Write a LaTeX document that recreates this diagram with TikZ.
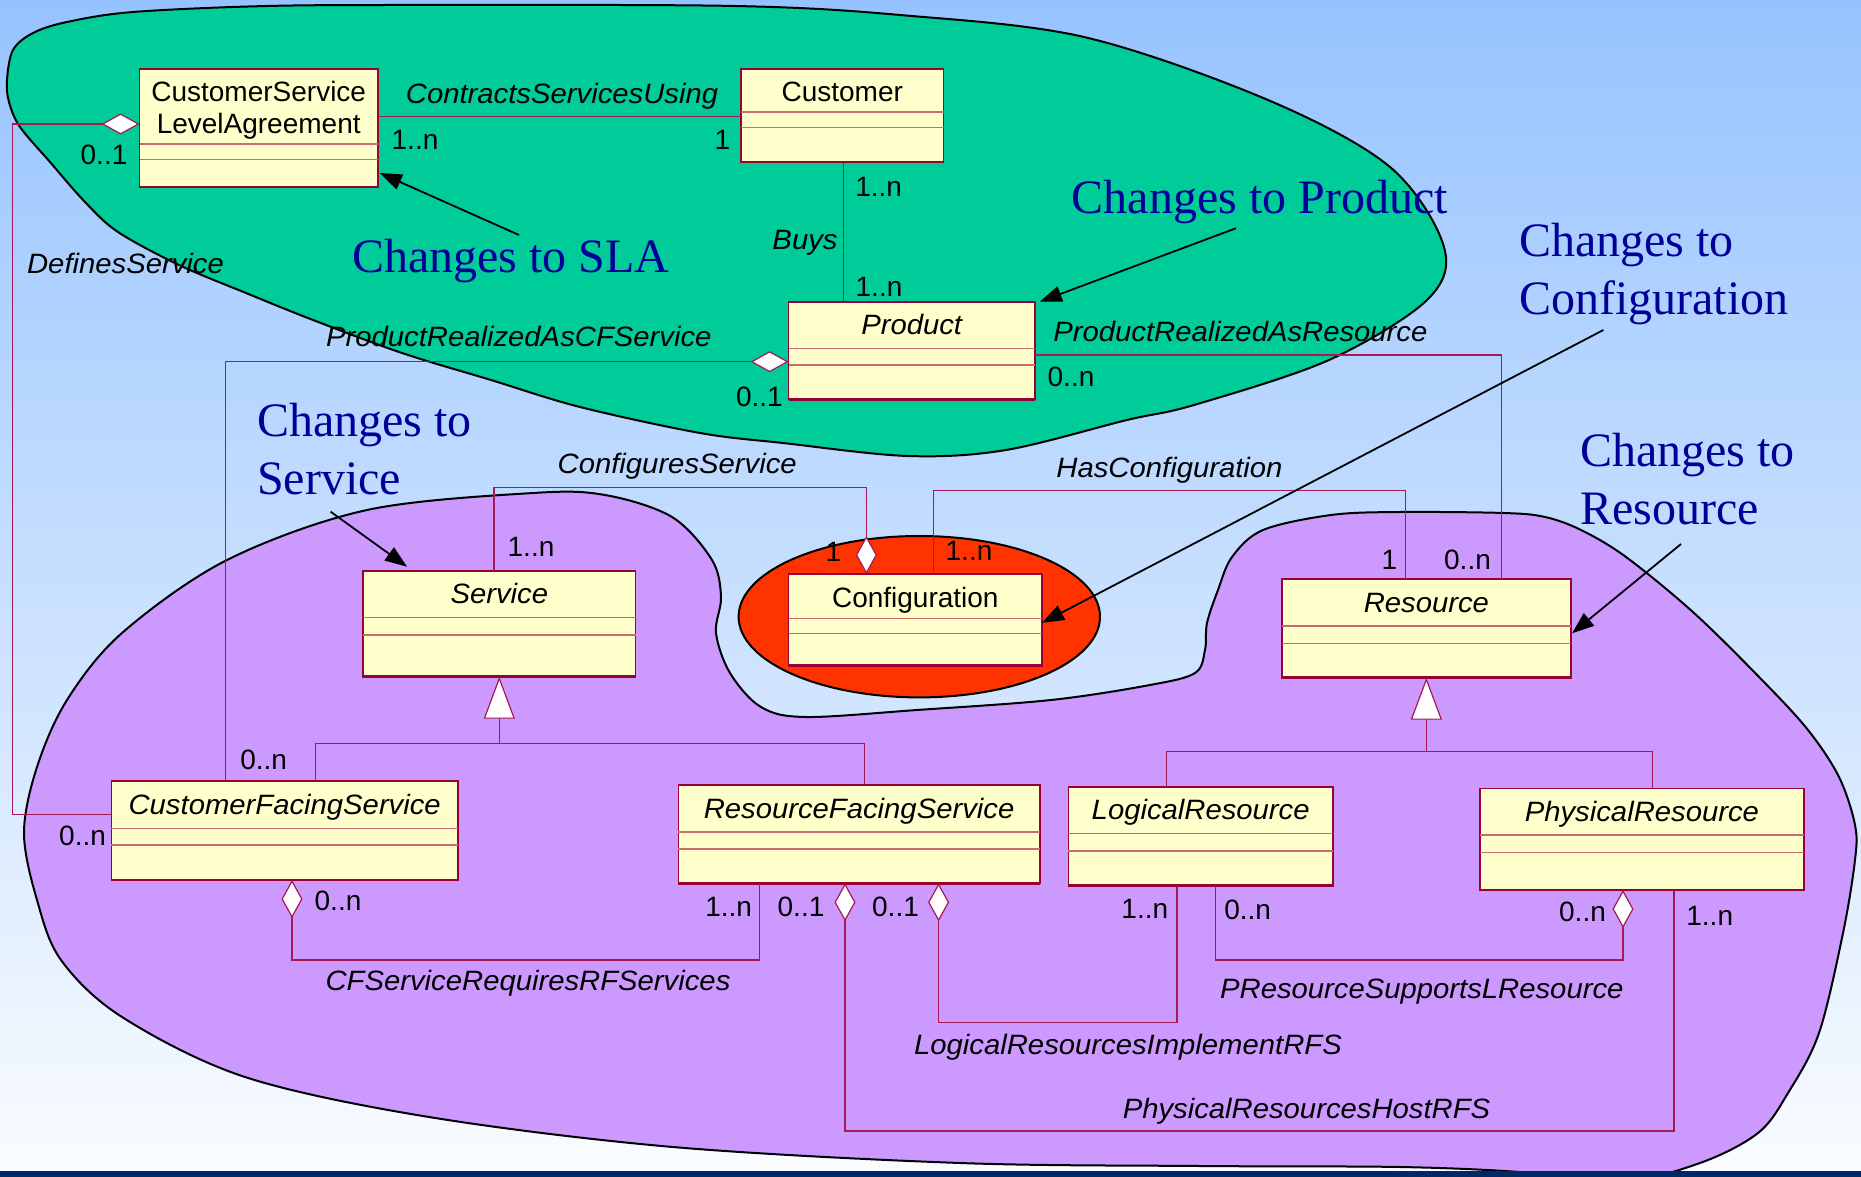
\documentclass[tikz,border=0pt]{standalone}
\usepackage{fontspec}
\setmainfont{Liberation Sans}[ItalicFeatures={FakeStretch=1.045}]
\newfontfamily\annfont{Liberation Serif}
\usetikzlibrary{arrows.meta,calc}
\definecolor{bgtop}{RGB}{150,195,255}
\definecolor{bgbot}{RGB}{250,252,255}
\definecolor{navy}{RGB}{0,40,102}
\definecolor{blobgreen}{RGB}{0,204,153}
\definecolor{blobpurple}{RGB}{204,153,255}
\definecolor{blobred}{RGB}{255,51,0}
\definecolor{clsfill}{RGB}{255,255,204}
\definecolor{clsborder}{RGB}{153,0,51}
\definecolor{clssep}{RGB}{200,105,115}
\definecolor{connc}{RGB}{165,25,85}
\definecolor{annblue}{RGB}{0,0,153}
\tikzset{
  Agg/.tip={Diamond[length=38pt,width=21pt,fill=white]},
  Gen/.tip={Triangle[length=42pt,width=31pt,fill=white]},
  cls/.style={draw=clsborder, fill=clsfill, line width=1.6pt, rectangle, inner sep=0pt, outer sep=0pt},
  sepline/.style={draw=clssep, line width=1.6pt},
  clsname/.style={inner sep=0pt, font=\fontsize{28}{31.6}\selectfont},
  clsnameit/.style={inner sep=0pt, font=\fontsize{28}{31.6}\selectfont\itshape},
  conn/.style={draw=connc, line width=1.2pt},
  lbl/.style={inner sep=0pt, anchor=base, font=\fontsize{28}{33}\selectfont\itshape},
  mult/.style={inner sep=0pt, anchor=base, font=\fontsize{28}{33}\selectfont},
  ann/.style={inner sep=0pt, anchor=base west, text=annblue, font=\annfont\fontsize{48}{57.5}\selectfont},
  annarrow/.style={draw=black, line width=1.8pt, -{Triangle[length=22pt,width=16pt]}},
  blob/.style={draw=black, line width=2pt},
}
\newcommand{\umlcls}[9]{%
  \node[cls, anchor=north west, minimum width=#4pt, minimum height=#5pt] (#1) at (#2,#3) {};
  \draw[sepline] ($(#1.north west)+(0,#6)$) -- ($(#1.north east)+(0,#6)$);
  \draw[sepline] ($(#1.north west)+(0,#7)$) -- ($(#1.north east)+(0,#7)$);
  \draw[clsborder, line width=2.6pt] (#1.south west) -- (#1.south east);
  \node[#9, anchor=base] (#1-name) at ($(#1.north)+(0,33)$) {#8};
}
\newcommand{\twol}[2]{\begin{tabular}[t]{@{}l@{}}#1\\#2\end{tabular}}
\begin{document}
\begin{tikzpicture}[x=1pt,y=-1pt]
\useasboundingbox (0,0) rectangle (1861,1177);
\shade[top color=bgtop,bottom color=bgbot] (0,0) rectangle (1861,1177);
% green blob
\draw[blob,fill=blobgreen] plot[smooth cycle, tension=0.55] coordinates {
 (7,80) (13,50) (33,33) (67,22) (133,12) (267,6) (428,5) (735,6) (900,15) (1084,37) (1268,100)
 (1390,167) (1444,247) (1427,300) (1329,360) (1194,405) (1127,420) (1006,450) (908,456)
 (783,443) (700,433) (580,407) (491,380) (402,353) (313,320) (246,293) (179,265) (118,232)
 (85,202) (50,162) (20,127) (9,102)};
% purple blob
\draw[blob,fill=blobpurple] plot[smooth cycle, tension=0.55] coordinates {
 (24,833) (37,767) (67,700) (122,633) (227,560) (367,510) (533,493) (605,495) (672,517)
 (712,560) (721,597) (716,633) (730,673) (761,707) (806,717) (917,710) (1051,700)
 (1150,685) (1195,673) (1205,650) (1207,623) (1218,590) (1232,557) (1263,530) (1331,515)
 (1399,512) (1504,513) (1545,517) (1581,530) (1626,557) (1694,613) (1762,680) (1808,730)
 (1839,777) (1855,825) (1855,860)
 (1843,933) (1819,1033) (1788,1093) (1758,1133) (1700,1163) (1620,1182) (1520,1172)
 (1400,1167) (1200,1166) (960,1163) (673,1147) (429,1117) (245,1077) (122,1017) (61,960)
 (37,900)};
% red ellipse
\draw[blob,fill=blobred] (919.3,616.7) ellipse [x radius=180.7pt, y radius=80.7pt];
\fill[navy] (0,1171) rectangle (1861,1177);
% classes
\umlcls{csla}{139.6}{69}{238.2}{118}{75.3}{90.7}{\begin{tabular}[t]{@{}c@{}}CustomerService\\LevelAgreement\end{tabular}}{clsname}
\umlcls{customer}{741}{69}{202.5}{93}{43.3}{58.7}{Customer}{clsname}
\umlcls{product}{788.6}{301.7}{246.2}{97.6}{46.6}{63.3}{Product}{clsnameit}
\umlcls{service}{363}{570.7}{272.6}{106}{46.6}{64}{Service}{clsnameit}
\umlcls{config}{788.6}{574}{253.4}{91.7}{44.3}{59.3}{Configuration}{clsname}
\umlcls{resource}{1281.7}{579}{289.3}{98.7}{46.7}{64.3}{Resource}{clsnameit}
\umlcls{cfs}{111.4}{781}{346.6}{99}{47.3}{64}{CustomerFacingService}{clsnameit}
\umlcls{rfs}{678.4}{785}{361.3}{98.3}{46.7}{64}{ResourceFacingService}{clsnameit}
\umlcls{lr}{1068.4}{786.7}{264.6}{99}{46.6}{64.3}{LogicalResource}{clsnameit}
\umlcls{pr}{1480}{788.3}{323.8}{101.7}{46.7}{64}{PhysicalResource}{clsnameit}
% connectors
\draw[conn] (csla.east |- 0,116.7) -- (customer.west |- 0,116.7);
\draw[conn] (customer.south -| 843.7,0) -- (product.north -| 843.7,0);
\draw[conn,{Agg}-] (csla.west |- 0,124) -- (12.2,124) |- (cfs.west |- 0,814.3);
\draw[conn,{Agg}-] (product.west |- 0,361.7) -| (cfs.north -| 225.3,0);
\draw[conn] (product.east |- 0,355) -| (resource.north -| 1501.7,0);
\draw[conn,-{Agg}] (service.north -| 494,0) -- (494,487.7) -| (config.north -| 866.4,0);
\draw[conn] (config.north -| 933.7,0) -- (933.7,490.7) -| (resource.north -| 1405.6,0);
\draw[conn,{Gen}-] (service.south) -- (service.south |- 0,743.3) -| (cfs.north -| 315.3,0);
\draw[conn] (service.south |- 0,743.3) -| (rfs.north -| 864.6,0);
\draw[conn,{Gen}-] (resource.south) -- (resource.south |- 0,751.7) -| (lr.north -| 1166.5,0);
\draw[conn] (resource.south |- 0,751.7) -| (pr.north -| 1652.4,0);
\draw[conn,{Agg}-] (cfs.south -| 292,0) -- (292,960) -| (rfs.south -| 759.3,0);
\draw[conn,{Agg}-] (rfs.south -| 845,0) -- (845,1131) -| (pr.south -| 1673.9,0);
\draw[conn,{Agg}-] (rfs.south -| 938.6,0) -- (938.6,1022.3) -| (lr.south -| 1177,0);
\draw[conn,-{Agg}] (lr.south -| 1215.6,0) -- (1215.6,960) -| (pr.south -| 1623,0);
% association labels
\node[lbl] (l-csu) at (562,104) {ContractsServicesUsing};
\node[lbl] (l-buys) at (805,250) {Buys};
\node[lbl] (l-def) at (125.5,273.3) {DefinesService};
\node[lbl] (l-prcf) at (518.8,346.7) {ProductRealizedAsCFService};
\node[lbl] (l-prr) at (1240.4,341.7) {ProductRealizedAsResource};
\node[lbl] (l-cs) at (677.2,473.3) {ConfiguresService};
\node[lbl] (l-hc) at (1169.5,477.3) {HasConfiguration};
\node[lbl] (l-cfrf) at (528,990.7) {CFServiceRequiresRFServices};
\node[lbl] (l-psl) at (1421.8,998.3) {PResourceSupportsLResource};
\node[lbl] (l-lri) at (1128,1054) {LogicalResourcesImplementRFS};
\node[lbl] (l-prh) at (1306.5,1118.3) {PhysicalResourcesHostRFS};
% multiplicities
\node[mult] (m1) at (415,150) {1..n};
\node[mult] (m2) at (722.5,150) {1};
\node[mult] (m3) at (104,165) {0..1};
\node[mult] (m4) at (878.6,196.7) {1..n};
\node[mult] (m5) at (879,296.7) {1..n};
\node[mult] (m6) at (759.4,406.7) {0..1};
\node[mult] (m7) at (1071,386) {0..n};
\node[mult] (m8) at (531,556.7) {1..n};
\node[mult] (m9) at (833.5,561.7) {1};
\node[mult] (m10) at (969,560) {1..n};
\node[mult] (m11) at (1389.5,569.3) {1};
\node[mult] (m12) at (1467.5,569.3) {0..n};
\node[mult] (m13) at (263.6,769.3) {0..n};
\node[mult] (m14) at (82.6,845) {0..n};
\node[mult] (m15) at (338,910.7) {0..n};
\node[mult] (m16) at (728.6,916.7) {1..n};
\node[mult] (m17) at (801,916.7) {0..1};
\node[mult] (m18) at (895.5,916.7) {0..1};
\node[mult] (m19) at (1144.8,918.3) {1..n};
\node[mult] (m20) at (1247.7,919.3) {0..n};
\node[mult] (m21) at (1582.5,921.7) {0..n};
\node[mult] (m22) at (1709.7,925) {1..n};
% annotations
\node[ann] (a-sla) at (352,272.7) {Changes to SLA};
\node[ann] (a-prod) at (1071.6,213.3) {Changes to Product};
\node[ann] (a-conf) at (1519,256.7) {\twol{Changes to}{Configuration}};
\node[ann] (a-serv) at (257,436.7) {\twol{Changes to}{Service}};
\node[ann] (a-res) at (1580,466.7) {\twol{Changes to}{Resource}};
\coordinate (aSLA) at (519,235);
\coordinate (aProd) at (1235.8,228.3);
\coordinate (aConf) at (1603.4,330);
\coordinate (aServ) at (330.6,511.7);
\coordinate (aRes) at (1681,544);
\draw[annarrow] (aSLA) -- ($(csla.south east)+(2,-14)$);
\draw[annarrow] (aProd) -- ($(product.north east)+(5,0)$);
\draw[annarrow] (aConf) -- ($(config.east)+(0,3)$);
\draw[annarrow] (aServ) -- ($(service.north west)+(44,-4)$);
\draw[annarrow] (aRes) -- ($(resource.east)+(1,5)$);
\end{tikzpicture}
\end{document}
